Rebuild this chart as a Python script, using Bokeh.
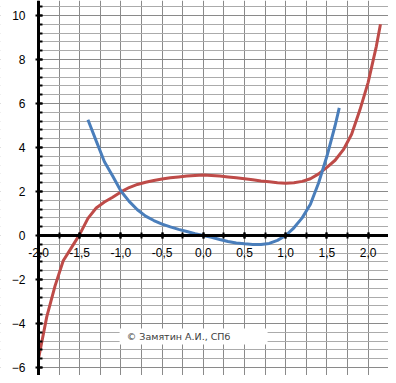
from bokeh.plotting import figure
from bokeh.models import FixedTicker, Label, BoxAnnotation, Range1d
from bokeh.embed import file_html
from bokeh.resources import INLINE

# ---- data ----
blue_x = [-1.4, -1.3, -1.2, -1.1, -1.0, -0.9, -0.8, -0.7, -0.6, -0.5, -0.4, -0.3, -0.2, -0.1,
          0.0, 0.1, 0.2, 0.3, 0.4, 0.5, 0.6, 0.7, 0.8, 0.9, 1.0, 1.1, 1.2, 1.3, 1.4, 1.5, 1.6, 1.65]
blue_y = [5.26, 4.3, 3.35, 2.7, 2.02, 1.55, 1.17, 0.88, 0.68, 0.52, 0.39, 0.28, 0.18, 0.08,
          0.0, -0.08, -0.18, -0.27, -0.34, -0.38, -0.41, -0.41, -0.36, -0.22, 0.0, 0.35, 0.8,
          1.42, 2.4, 3.6, 5.0, 5.8]

red_x = [-2.0, -1.9, -1.8, -1.7, -1.6, -1.5, -1.4, -1.3, -1.2, -1.1, -1.0, -0.9, -0.8, -0.7,
         -0.6, -0.5, -0.4, -0.3, -0.2, -0.1, 0.0, 0.1, 0.2, 0.3, 0.4, 0.5, 0.6, 0.7, 0.8, 0.9,
         1.0, 1.1, 1.2, 1.3, 1.4, 1.5, 1.6, 1.7, 1.8, 1.9, 2.0, 2.1, 2.15]
red_y = [-5.6, -3.7, -2.3, -1.15, -0.55, 0.05, 0.78, 1.25, 1.52, 1.74, 1.98, 2.18, 2.32, 2.42,
         2.5, 2.57, 2.62, 2.66, 2.7, 2.73, 2.75, 2.73, 2.7, 2.66, 2.62, 2.58, 2.53, 2.48, 2.44,
         2.4, 2.38, 2.4, 2.46, 2.58, 2.8, 3.1, 3.42, 3.9, 4.6, 5.7, 6.95, 8.6, 9.6]

x_label_ticks = [-2.0, -1.5, -1.0, -0.5, 0.0, 0.5, 1.0, 1.5, 2.0]
x_labels = ["-2,0", "-1,5", "-1,0", "-0,5", "0,0", "0,5", "1,0", "1,5", "2,0"]
x_minor = [round(-2.0 + 0.25 * i, 2) for i in range(0, 19)]
y_major = [-6, -4, -2, 0, 2, 4, 6, 8, 10]
y_minor = [round(-6.8 + 0.4 * i, 2) for i in range(0, 44)]

watermark = "© Замятин А.И., СПб"

X_AXIS_AT = -2.0          # where the vertical axis crosses
X_START, X_END = -2.4612, 2.2476
Y_START, Y_END = -6.364, 10.682

p = figure(width=388, height=375, output_backend="svg", toolbar_location=None,
           x_range=Range1d(X_START, X_END), y_range=Range1d(Y_START, Y_END),
           min_border_left=0, min_border_right=0, min_border_top=0, min_border_bottom=0)
p.outline_line_color = None
p.background_fill_color = "white"

# grids
p.xgrid.ticker = FixedTicker(ticks=x_minor)
p.xgrid.grid_line_color = "#8a8a8a"
p.xgrid.grid_line_width = 1
p.ygrid.ticker = FixedTicker(ticks=y_major, minor_ticks=y_minor)
p.ygrid.grid_line_color = "#8a8a8a"
p.ygrid.minor_grid_line_color = "#ababab"
p.ygrid.grid_line_width = 1

# white strip left of the vertical axis (hides grid there)
strip = BoxAnnotation(right=X_AXIS_AT, fill_color="white", fill_alpha=1.0,
                      line_color=None, level="underlay")
p.add_layout(strip)

# y axis at x = -2
ya = p.yaxis[0]
ya.fixed_location = X_AXIS_AT
ya.ticker = FixedTicker(ticks=y_major, minor_ticks=y_minor)
ya.axis_line_width = 3
ya.axis_line_color = "black"
ya.major_tick_line_width = 2
ya.major_tick_in = 4
ya.major_tick_out = 3
ya.minor_tick_line_width = 2
ya.minor_tick_in = 4
ya.minor_tick_out = 0
ya.major_label_standoff = 10
ya.major_label_text_font = "Liberation Sans"
ya.major_label_text_font_size = "12px"
ya.major_label_text_color = "black"

# x axis through y=0
xa = p.xaxis[0]
xa.fixed_location = 0
xa.bounds = (X_AXIS_AT, X_END)
xa.ticker = FixedTicker(ticks=x_label_ticks, minor_ticks=x_minor)
xa.major_label_overrides = {t: l for t, l in zip(x_label_ticks, x_labels)}
xa.axis_line_width = 3
xa.axis_line_color = "black"
xa.major_tick_line_width = 2
xa.major_tick_in = 3
xa.major_tick_out = 3
xa.minor_tick_line_width = 2
xa.minor_tick_in = 3
xa.minor_tick_out = 3
xa.major_label_standoff = 10
xa.major_label_text_font = "Liberation Sans"
xa.major_label_text_font_size = "12px"
xa.major_label_text_color = "black"

# curves
p.line(red_x, red_y, line_color="#BE4B48", line_width=3)
p.line(blue_x, blue_y, line_color="#4A7EBB", line_width=3)

# watermark
p.add_layout(BoxAnnotation(left=-1.016, right=0.78, top=-4.23, bottom=-4.95,
                           fill_color="white", fill_alpha=1.0, line_color=None))
p.add_layout(Label(x=-0.30, y=-4.6, text=watermark, text_align="center",
                   text_baseline="middle", text_font="DejaVu Sans",
                   text_font_size="9.5px", text_color="#3c3c3c"))

open("out.html", "w").write(file_html(p, INLINE))
